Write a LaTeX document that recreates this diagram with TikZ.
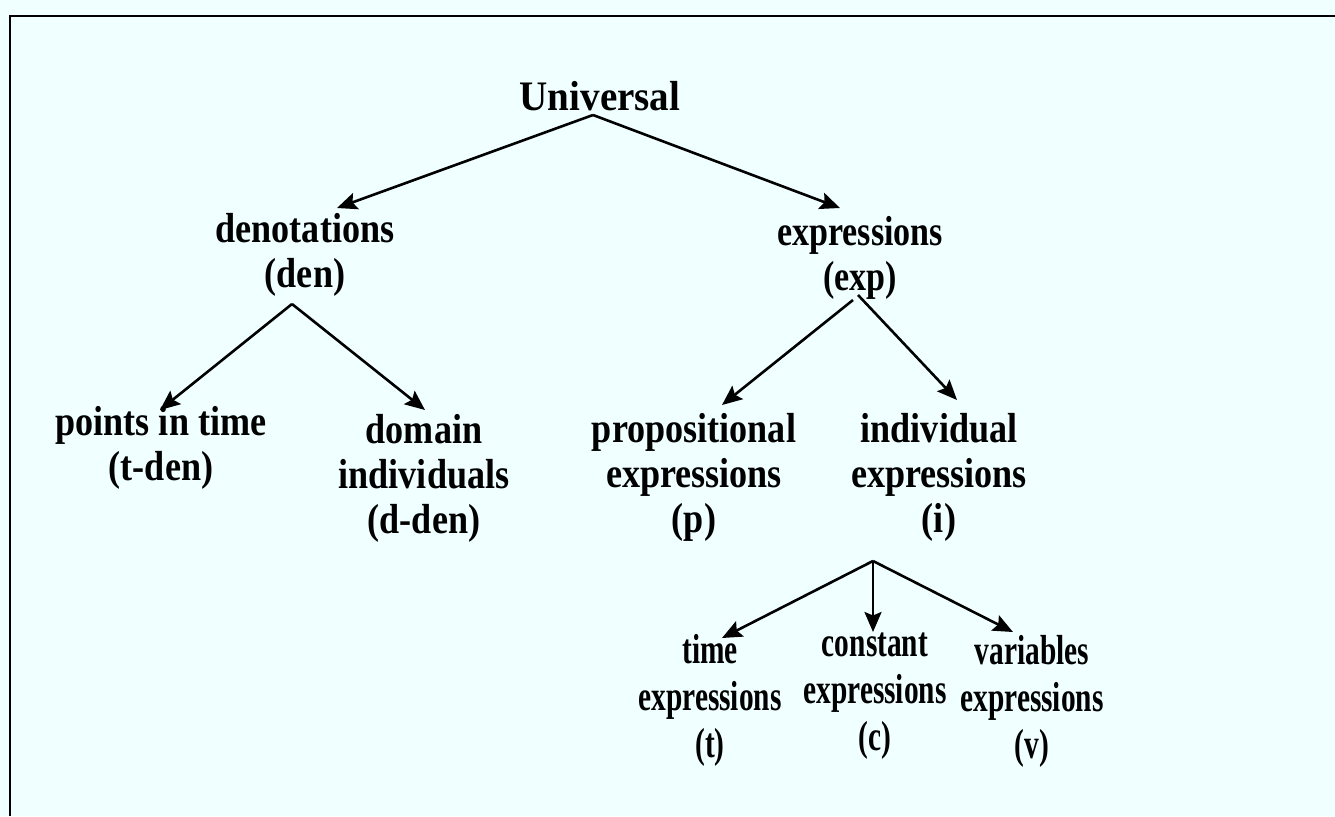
\documentclass[tikz,border=0pt]{standalone}
\usepackage{fontspec}
\setmainfont{Liberation Serif}
\newfontfamily\midfnt[FakeStretch=0.86]{Liberation Serif}
\newfontfamily\univfnt[FakeStretch=0.93]{Liberation Serif}
\newfontfamily\expfnt[FakeStretch=0.81]{Liberation Serif}
\newfontfamily\botfnt[FakeStretch=0.7]{Liberation Serif}
\usetikzlibrary{arrows.meta}
\definecolor{bgcol}{HTML}{F0FFFF}
\tikzset{
  lbl/.style={align=center, inner sep=0pt, anchor=base, font=\midfnt\bfseries\fontsize{42}{45}\selectfont},
  univlbl/.style={lbl, font=\univfnt\bfseries\fontsize{42}{45}\selectfont},
  explbl/.style={lbl, font=\expfnt\bfseries\fontsize{42}{45}\selectfont},
  botlbl/.style={lbl, font=\botfnt\bfseries\fontsize{42}{47}\selectfont},
  arr/.style={line width=2.6pt, -{Stealth[length=20pt,width=17pt,inset=3.5pt]}},
}
\begin{document}
\begin{tikzpicture}[x=1pt,y=-1pt]
\useasboundingbox (0,0) rectangle (1335,816);
\fill[bgcol] (0,0) rectangle (1335,816);
\draw[line width=2.5pt] (10,816) -- (10,16) -- (1335,16);

\node[univlbl] (u) at (600,110) {Universal};
\node[lbl] (den) at (305,287) {denotations\\(den)};
\node[explbl] (exp) at (860,290) {expressions\\(exp)};
\node[lbl] (pit) at (161,480) {points in time\\(t-den)};
\node[lbl] (dom) at (424,533) {domain\\individuals\\(d-den)};
\node[lbl] (prop) at (694,532) {propositional\\expressions\\(p)};
\node[lbl] (ind) at (939,532) {individual\\expressions\\(i)};
\node[botlbl] (tim) at (710,757) {time\\expressions\\(t)};
\node[botlbl] (con) at (875,750) {constant\\expressions\\(c)};
\node[botlbl] (var) at (1032,758) {variables\\expressions\\(v)};

\draw[arr] ([shift={(-7,5)}]u.base) -- ([shift={(32,-79)}]den.base);
\draw[arr] ([shift={(-7,5)}]u.base) -- ([shift={(-20,-82)}]exp.base);
\draw[arr] ([shift={(-13,17)}]den.base) -- ([shift={(-1,-70)}]pit.base);
\draw[arr] ([shift={(-13,17)}]den.base) -- ([shift={(1,-123)}]dom.base);
\draw[arr] ([shift={(-7,10)}]exp.base) -- ([shift={(28,-127)}]prop.base);
\draw[arr] ([shift={(-2,5)}]exp.base) -- ([shift={(18,-132)}]ind.base);
\draw[arr] ([shift={(-66,29)}]ind.base) -- ([shift={(12,-119)}]tim.base);
\draw[arr] ([shift={(-66,29)}]ind.base) -- ([shift={(-2,-118)}]con.base);
\draw[arr] ([shift={(-66,29)}]ind.base) -- ([shift={(-19,-126)}]var.base);
\end{tikzpicture}
\end{document}
